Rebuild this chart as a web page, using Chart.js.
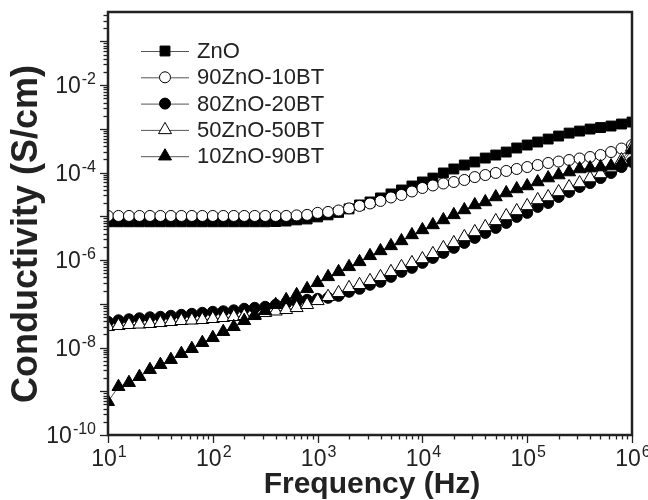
<!DOCTYPE html>
<html lang='en'>
<head>
    <meta charset='UTF-8'>
    <title>Conductivity vs Frequency</title>
    <style>
        body {
            margin: 0;
            padding: 0;
            background-color: #fff;
        }
        #chart {
            display: block;
        }
    </style>
</head>
<body>
    <canvas id='chart' width='648' height='500'></canvas>

    <script src='https://cdn.jsdelivr.net/npm/chart.js'></script>
    <script>
        // measured frequencies (Hz), 10 points per decade
        const freqHz = [
            10, 12.59, 15.85, 19.95, 25.12, 31.62, 39.81, 50.12, 63.1, 79.43,
            100, 125.9, 158.5, 199.5, 251.2, 316.2, 398.1, 501.2, 631, 794.3,
            1000, 1259, 1585, 1995, 2512, 3162, 3981, 5012, 6310, 7943,
            1e4, 12590, 15850, 19950, 25120, 31620, 39810, 50120, 63100, 79430,
            1e5, 125900, 158500, 199500, 251200, 316200, 398100, 501200, 631000, 794300,
            1e6
        ];

        const seriesNames = ['ZnO', '90ZnO-10BT', '80ZnO-20BT', '50ZnO-50BT', '10ZnO-90BT'];

        // conductivity (S/cm)
        const znoVals = [
            7.5e-6, 7.5e-6, 7.5e-6, 7.5e-6, 7.5e-6, 7.5e-6, 7.5e-6, 7.5e-6, 7.5e-6, 7.5e-6,
            7.5e-6, 7.5e-6, 7.5e-6, 7.5e-6, 7.5e-6, 7.5e-6, 7.6e-6, 7.8e-6, 8.3e-6, 8.7e-6,
            9.7e-6, 1.08e-5, 1.23e-5, 1.48e-5, 1.82e-5, 2.13e-5, 2.63e-5, 3.25e-5, 4.0e-5, 4.94e-5,
            6.1e-5, 7.5e-5, 9.8e-5, 1.21e-4, 1.49e-4, 1.75e-4, 2.15e-4, 2.52e-4, 2.95e-4, 3.65e-4,
            4.27e-4, 5.0e-4, 5.85e-4, 6.85e-4, 8.0e-4, 8.9e-4, 9.9e-4, 1.07e-3, 1.16e-3, 1.29e-3,
            1.43e-3
        ];
        const bt10Vals = [
            1.02e-5, 1.02e-5, 1.02e-5, 1.02e-5, 1.02e-5, 1.02e-5, 1.02e-5, 1.02e-5, 1.02e-5, 1.02e-5,
            1.02e-5, 1.02e-5, 1.02e-5, 1.02e-5, 1.02e-5, 1.02e-5, 1.02e-5, 1.02e-5, 1.05e-5, 1.08e-5,
            1.2e-5, 1.26e-5, 1.36e-5, 1.52e-5, 1.73e-5, 1.97e-5, 2.25e-5, 2.7e-5, 3.08e-5, 3.7e-5,
            4.45e-5, 5.08e-5, 5.64e-5, 6.1e-5, 6.78e-5, 7.9e-5, 8.8e-5, 9.8e-5, 1.09e-4, 1.21e-4,
            1.34e-4, 1.49e-4, 1.66e-4, 1.79e-4, 1.94e-4, 2.1e-4, 2.27e-4, 2.52e-4, 2.95e-4, 3.55e-4,
            4.27e-4
        ];
        const bt20Vals = [
            3.88e-8, 4.2e-8, 4.43e-8, 4.67e-8, 4.92e-8, 5.05e-8, 5.32e-8, 5.6e-8, 5.9e-8, 6.23e-8,
            6.56e-8, 6.75e-8, 7.1e-8, 7.69e-8, 8.1e-8, 8.54e-8, 9.5e-8, 1.03e-7, 1.11e-7, 1.23e-7,
            1.3e-7, 1.37e-7, 1.52e-7, 1.88e-7, 2.2e-7, 2.72e-7, 3.18e-7, 4.13e-7, 5.38e-7, 6.63e-7,
            8.63e-7, 1.12e-6, 1.46e-6, 1.9e-6, 2.47e-6, 3.21e-6, 4.17e-6, 5.44e-6, 7.07e-6, 9.7e-6,
            1.2e-5, 1.64e-5, 2.02e-5, 2.77e-5, 3.61e-5, 4.69e-5, 5.78e-5, 7.5e-5, 9.8e-5, 1.34e-4,
            1.75e-4
        ];
        const bt50Vals = [
            2.98e-8, 3.15e-8, 3.32e-8, 3.4e-8, 3.5e-8, 3.68e-8, 3.88e-8, 4.09e-8, 4.2e-8, 4.31e-8,
            4.55e-8, 4.79e-8, 5.05e-8, 5.32e-8, 5.6e-8, 6.23e-8, 6.75e-8, 7.3e-8, 8.1e-8, 9.5e-8,
            1.17e-7, 1.45e-7, 1.78e-7, 2.32e-7, 2.72e-7, 3.35e-7, 4.13e-7, 5.38e-7, 7.0e-7, 8.63e-7,
            1.06e-6, 1.39e-6, 1.9e-6, 2.47e-6, 3.38e-6, 4.4e-6, 5.73e-6, 7.86e-6, 1.02e-5, 1.33e-5,
            1.73e-5, 2.37e-5, 2.77e-5, 3.61e-5, 4.69e-5, 5.78e-5, 7.5e-5, 9.3e-5, 1.27e-4, 1.94e-4,
            3.84e-4
        ];
        const bt90Vals = [
            5.78e-10, 1.27e-9, 1.57e-9, 2.15e-9, 3.11e-9, 4.05e-9, 5.27e-9, 7.22e-9, 9.39e-9, 1.29e-8,
            1.67e-8, 2.3e-8, 2.98e-8, 4.09e-8, 5.32e-8, 6.92e-8, 9.5e-8, 1.23e-7, 1.6e-7, 2.2e-7,
            3.02e-7, 4.13e-7, 5.38e-7, 7.0e-7, 9.1e-7, 1.25e-6, 1.62e-6, 2.11e-6, 2.74e-6, 3.76e-6,
            4.89e-6, 6.36e-6, 8.27e-6, 1.08e-5, 1.4e-5, 1.82e-5, 2.13e-5, 2.77e-5, 3.42e-5, 4.22e-5,
            4.94e-5, 6.1e-5, 7.5e-5, 8.8e-5, 1.03e-4, 1.21e-4, 1.27e-4, 1.34e-4, 1.41e-4, 1.66e-4,
            3.28e-4
        ];

        // labelled decades (exponents of 10)
        const xTickExps = [1, 2, 3, 4, 5, 6];
        const yTickExps = [-10, -8, -6, -4, -2];

        const xMin = 10, xMax = 1e6;
        const yMin = 1e-10, yMax = 0.47;

        const toPoints = vals => freqHz.map((f, i) => ({ x: f, y: vals[i] }));

        function makeSet(label, vals, style, radius, filled, order) {
            return {
                label: label,
                data: toPoints(vals),
                borderColor: '#555',
                borderWidth: 1,
                pointStyle: style,
                pointRadius: radius,
                pointBorderColor: '#000',
                pointBorderWidth: 1,
                pointBackgroundColor: filled ? '#000' : '#fff',
                order: order
            };
        }

        function drawMarker(ctx, style, r, filled, x, y) {
            ctx.beginPath();
            if (style === 'rect') {
                const s = r * Math.SQRT1_2;
                ctx.rect(x - s, y - s, 2 * s, 2 * s);
            } else if (style === 'triangle') {
                ctx.moveTo(x, y - r);
                ctx.lineTo(x + r * 0.866, y + r * 0.5);
                ctx.lineTo(x - r * 0.866, y + r * 0.5);
                ctx.closePath();
            } else {
                ctx.arc(x, y, r, 0, Math.PI * 2);
            }
            ctx.fillStyle = filled ? '#000' : '#fff';
            ctx.fill();
            ctx.lineWidth = 1;
            ctx.strokeStyle = '#000';
            ctx.stroke();
        }

        const FONT = 'Arial, "Liberation Sans", sans-serif';

        function drawPow(ctx, exp, x, y, align) {
            const base = '10';
            const sup = String(exp);
            ctx.font = '23px ' + FONT;
            const wb = ctx.measureText(base).width;
            ctx.font = '16px ' + FONT;
            const ws = ctx.measureText(sup).width;
            const total = wb + ws + 1;
            const left = align === 'right' ? x - total : x - total / 2;
            ctx.fillStyle = '#222';
            ctx.textAlign = 'left';
            ctx.textBaseline = 'alphabetic';
            ctx.font = '23px ' + FONT;
            ctx.fillText(base, left, y);
            ctx.font = '16px ' + FONT;
            ctx.fillText(sup, left + wb + 1, y - 9);
        }

        const axesPlugin = {
            id: 'axesPlugin',
            afterDatasetsDraw(chart) {
                const ctx = chart.ctx;
                const a = chart.chartArea;
                const xs = chart.scales.x;
                const ys = chart.scales.y;
                ctx.save();
                ctx.strokeStyle = '#222';
                ctx.lineWidth = 1.3;

                // x ticks (outside, below)
                for (let e = 1; e <= 6; e++) {
                    for (let k = 1; k <= 9; k++) {
                        const v = k * Math.pow(10, e);
                        if (v > xMax) break;
                        const px = Math.round(xs.getPixelForValue(v)) + 0.5;
                        const len = k === 1 ? 8 : 4.5;
                        ctx.beginPath();
                        ctx.moveTo(px, a.bottom);
                        ctx.lineTo(px, a.bottom + len);
                        ctx.stroke();
                    }
                }
                // y ticks (outside, left)
                for (let e = -10; e <= 0; e++) {
                    for (let k = 1; k <= 9; k++) {
                        const v = k * Math.pow(10, e);
                        if (v > yMax) break;
                        const py = Math.round(ys.getPixelForValue(v)) + 0.5;
                        const len = k === 1 ? 8 : 4.5;
                        ctx.beginPath();
                        ctx.moveTo(a.left, py);
                        ctx.lineTo(a.left - len, py);
                        ctx.stroke();
                    }
                }

                // frame
                ctx.lineWidth = 2.5;
                ctx.strokeRect(a.left, a.top, a.right - a.left, a.bottom - a.top);

                // tick labels
                xTickExps.forEach(e => {
                    drawPow(ctx, e, xs.getPixelForValue(Math.pow(10, e)) + 1, a.bottom + 31, 'center');
                });
                yTickExps.forEach(e => {
                    drawPow(ctx, e, a.left - 12, ys.getPixelForValue(Math.pow(10, e)) + 8, 'right');
                });

                // axis titles
                ctx.fillStyle = '#222';
                ctx.font = 'bold 30px ' + FONT;
                ctx.textAlign = 'center';
                ctx.textBaseline = 'alphabetic';
                ctx.fillText('Frequency (Hz)', (a.left + a.right) / 2 + 2, 493);
                ctx.save();
                ctx.font = 'bold 36px ' + FONT;
                ctx.translate(37, 234);
                ctx.rotate(-Math.PI / 2);
                ctx.fillText('Conductivity (S/cm)', 0, 0);
                ctx.restore();

                // legend
                const sets = chart.data.datasets;
                ctx.font = '22px ' + FONT;
                ctx.textAlign = 'left';
                ctx.textBaseline = 'middle';
                sets.forEach((ds, i) => {
                    const ly = 51 + i * 26.3;
                    ctx.strokeStyle = '#555';
                    ctx.lineWidth = 1;
                    ctx.beginPath();
                    ctx.moveTo(141, ly + 0.5);
                    ctx.lineTo(189, ly + 0.5);
                    ctx.stroke();
                    drawMarker(ctx, ds.pointStyle, ds.pointRadius, ds.pointBackgroundColor === '#000', 165, ly);
                    ctx.fillStyle = '#222';
                    ctx.fillText(ds.label, 197, ly + 1);
                });
                ctx.restore();
            }
        };

        const ctx = document.getElementById('chart').getContext('2d');
        new Chart(ctx, {
            type: 'line',
            data: {
                datasets: [
                    makeSet(seriesNames[0], znoVals, 'rect', 7, true, 5),
                    makeSet(seriesNames[1], bt10Vals, 'circle', 5.5, false, 4),
                    makeSet(seriesNames[2], bt20Vals, 'circle', 5.5, true, 3),
                    makeSet(seriesNames[3], bt50Vals, 'triangle', 7.5, false, 2),
                    makeSet(seriesNames[4], bt90Vals, 'triangle', 7.5, true, 1)
                ]
            },
            options: {
                responsive: false,
                animation: false,
                layout: {
                    padding: { left: 108, top: 12, right: 16, bottom: 65 }
                },
                plugins: {
                    legend: { display: false },
                    tooltip: { enabled: false }
                },
                scales: {
                    x: {
                        type: 'logarithmic',
                        min: xMin,
                        max: xMax,
                        display: false
                    },
                    y: {
                        type: 'logarithmic',
                        min: yMin,
                        max: yMax,
                        display: false
                    }
                }
            },
            plugins: [axesPlugin]
        });
    </script>
</body>
</html>
